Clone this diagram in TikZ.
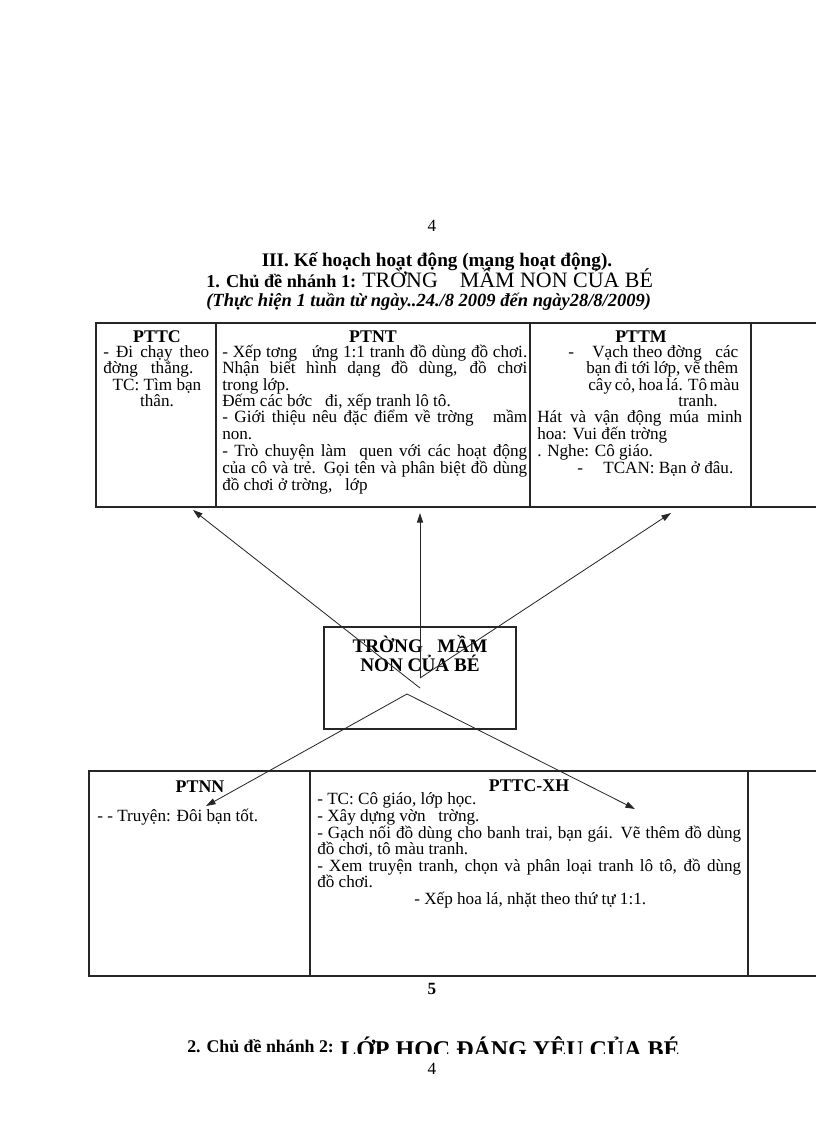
\documentclass[tikz,border=0pt]{standalone}
\usepackage{fontspec}
\setmainfont{Liberation Serif}
\usetikzlibrary{arrows.meta}
\newdimen\pxu \pxu=0.72917pt
\newcommand{\jl}[2]{\makebox[#1\pxu][s]{#2}}
\tikzset{
  txt/.style={inner sep=0pt, anchor=base west, font=\fontsize{12.5}{13}\selectfont},
  ctxt/.style={txt, anchor=base},
  hdr/.style={inner sep=0pt, anchor=base, font=\fontsize{13}{14}\selectfont\bfseries},
  frame/.style={draw=black!85, line width=1pt},
  arr/.style={draw=black!85, line width=0.6pt, -{Triangle[length=7pt,width=4.5pt]}},
  hubbox/.style={draw=black!85, line width=0.8pt, minimum width=192\pxu, minimum height=102\pxu, inner sep=0pt},
}
\begin{document}
\begin{tikzpicture}[x=0.72917pt, y=-0.72917pt]
\useasboundingbox (0,0) rectangle (816,1123);
\clip (0,0) rectangle (816,1123);
\fill[white] (0,0) rectangle (816,1123);

% ---------- heading ----------
\node[inner sep=0pt, anchor=base, font=\fontsize{12.5}{14}\selectfont] (pg4a) at (432,231) {4};
\node[inner sep=0pt, anchor=base, font=\fontsize{14}{16}\selectfont\bfseries] (h1) at (437,266) {III. Kế hoạch hoạt động (mạng hoạt động).};
\node[inner sep=0pt, anchor=base west, text depth=0pt, font=\fontsize{13.3}{14}\selectfont\bfseries] (h2a) at (206,287) {1. Chủ đề nhánh 1:};
\node[inner sep=0pt, anchor=base west, text depth=0pt, font=\fontsize{16}{18}\selectfont] (h2b) at (362,287) {TRỜNG \ \ \ MẦM NON CỦA BÉ};
\node[inner sep=0pt, anchor=base west, text height=8pt, font=\fontsize{13.5}{14}\selectfont\bfseries\itshape] (h3) at (206,306) {(Thực hiện 1 tuần từ ngày..24./8 2009 đến ngày28/8/2009)};

% ---------- top table ----------
\draw[frame] (830,323) -- (96,323) -- (96,507) -- (830,507);
\draw[frame] (216,323) -- (216,507);
\draw[frame] (530,323) -- (530,507);
\draw[frame] (751,323) -- (751,507);

\node[hdr] (hPTTC) at (157,342) {PTTC};
\node[hdr] (hPTNT) at (373,342) {PTNT};
\node[hdr] (hPTTM) at (641,342) {PTTM};

% PTTC
\node[txt] (a1) at (103,357) {\jl{106}{- Đi chạy theo}};
\node[txt] (a2) at (103,373) {đờng \ \ thẳng.};
\node[ctxt] (a3) at (157,390) {TC: Tìm bạn};
\node[ctxt] (a4) at (157,406) {thân.};

% PTNT
\node[txt] (b1) at (222,357) {\jl{305}{- Xếp tơng \ \ ứng 1:1 tranh đồ dùng đồ chơi.}};
\node[txt] (b2) at (222,373) {\jl{305}{Nhận biết hình dạng đồ dùng, đồ chơi}};
\node[txt] (b3) at (222,390) {trong lớp.};
\node[txt] (b4) at (222,406) {Đếm các bớc \ \ đi, xếp tranh lô tô.};
\node[txt] (b5) at (222,422) {\jl{305}{- Giới thiệu nêu đặc điểm về trờng \ \ mầm}};
\node[txt] (b6) at (222,439) {non.};
\node[txt] (b7) at (222,456) {\jl{305}{- Trò chuyện làm \ quen với các hoạt động}};
\node[txt] (b8) at (222,473) {\jl{305}{của cô và trẻ. Gọi tên và phân biệt đồ dùng}};
\node[txt] (b9) at (222,490) {đồ chơi ở trờng, \ \ lớp};

% PTTM
\node[txt] (c0) at (568,357) {-};
\node[txt] (c1) at (592,357) {\jl{146}{Vạch theo đờng \ \ các}};
\node[txt] (c2) at (586,373) {\jl{152}{bạn đi tới lớp, vẽ thêm}};
\node[txt] (c3) at (588,390) {\jl{150}{cây cỏ, hoa lá. Tô màu}};
\node[ctxt] (c4) at (698,406) {tranh.};
\node[txt] (c5) at (537,422) {\jl{205}{Hát và vận động múa minh}};
\node[txt] (c6) at (537,439) {hoa: Vui đến trờng};
\node[txt] (c7) at (537,456) {. Nghe: Cô giáo.};
\node[txt] (c8) at (577,473) {-};
\node[txt] (c9) at (603,473) {TCAN: Bạn ở đâu.};

% ---------- hub ----------
\node[hubbox] (hub) at (420,678) {};
\node[inner sep=0pt, anchor=base, font=\fontsize{14}{16}\selectfont\bfseries] (hubt1) at (420,652) {TRỜNG \ \ MẦM};
\node[inner sep=0pt, anchor=base, font=\fontsize{14}{16}\selectfont\bfseries] (hubt2) at (420,671) {NON CỦA BÉ};

\coordinate (hubL) at (420,688);
\coordinate (hubT) at (420,678);
\coordinate (hubB) at (407,694);
\coordinate (tPTTC) at (193,510);
\coordinate (tPTNT) at (420,513);
\coordinate (tPTTM) at (671,513);
\coordinate (tPTNN) at (206,806);
\coordinate (tXH) at (635,809);

\draw[arr] (hubL) -- (tPTTC);
\draw[arr] (hubT) -- (tPTNT);
\draw[arr] (hubT) -- (tPTTM);
\draw[arr] (hubB) -- (tPTNN);
\draw[arr] (hubB) -- (tXH);

% ---------- bottom table ----------
\draw[frame] (830,771) -- (89,771) -- (89,976) -- (830,976);
\draw[frame] (310,771) -- (310,976);
\draw[frame] (748,771) -- (748,976);

\node[hdr] (hPTNN) at (200,792) {PTNN};
\node[hdr] (hPTTCXH) at (529,791) {PTTC-XH};

\node[txt] (d1) at (97,821) {- - Truyện: Đôi bạn tốt.};

\node[txt] (e1) at (317,804) {- TC: Cô giáo, lớp học.};
\node[txt] (e2) at (317,821) {- Xây dựng vờn \ \ trờng.};
\node[txt] (e3) at (317,838) {\jl{424}{- Gạch nối đồ dùng cho banh trai, bạn gái. Vẽ thêm đồ dùng}};
\node[txt] (e4) at (317,854) {đồ chơi, tô màu tranh.};
\node[txt] (e5) at (317,871) {\jl{424}{- Xem truyện tranh, chọn và phân loại tranh lô tô, đồ dùng}};
\node[txt] (e6) at (317,887) {đồ chơi.};
\node[txt] (e7) at (414,904) {- Xếp hoa lá, nhặt theo thứ tự 1:1.};

% ---------- footer ----------
\node[inner sep=0pt, anchor=base, font=\fontsize{12.5}{14}\selectfont\bfseries] (pg5) at (432,994) {5};
\node[inner sep=0pt, anchor=base west, font=\fontsize{13}{14}\selectfont\bfseries] (f1) at (187,1052) {2. Chủ đề nhánh 2:};
\begin{scope}
  \clip (300,1020) rectangle (720,1053);
  \node[inner sep=0pt, anchor=base west, text depth=0pt, font=\fontsize{17.5}{18}\selectfont\bfseries] (f2) at (340,1057) {LỚP HỌC ĐÁNG YÊU CỦA BÉ};
\end{scope}
\node[inner sep=0pt, anchor=base, font=\fontsize{12.5}{14}\selectfont] (pg4b) at (432,1074) {4};
\end{tikzpicture}
\end{document}
